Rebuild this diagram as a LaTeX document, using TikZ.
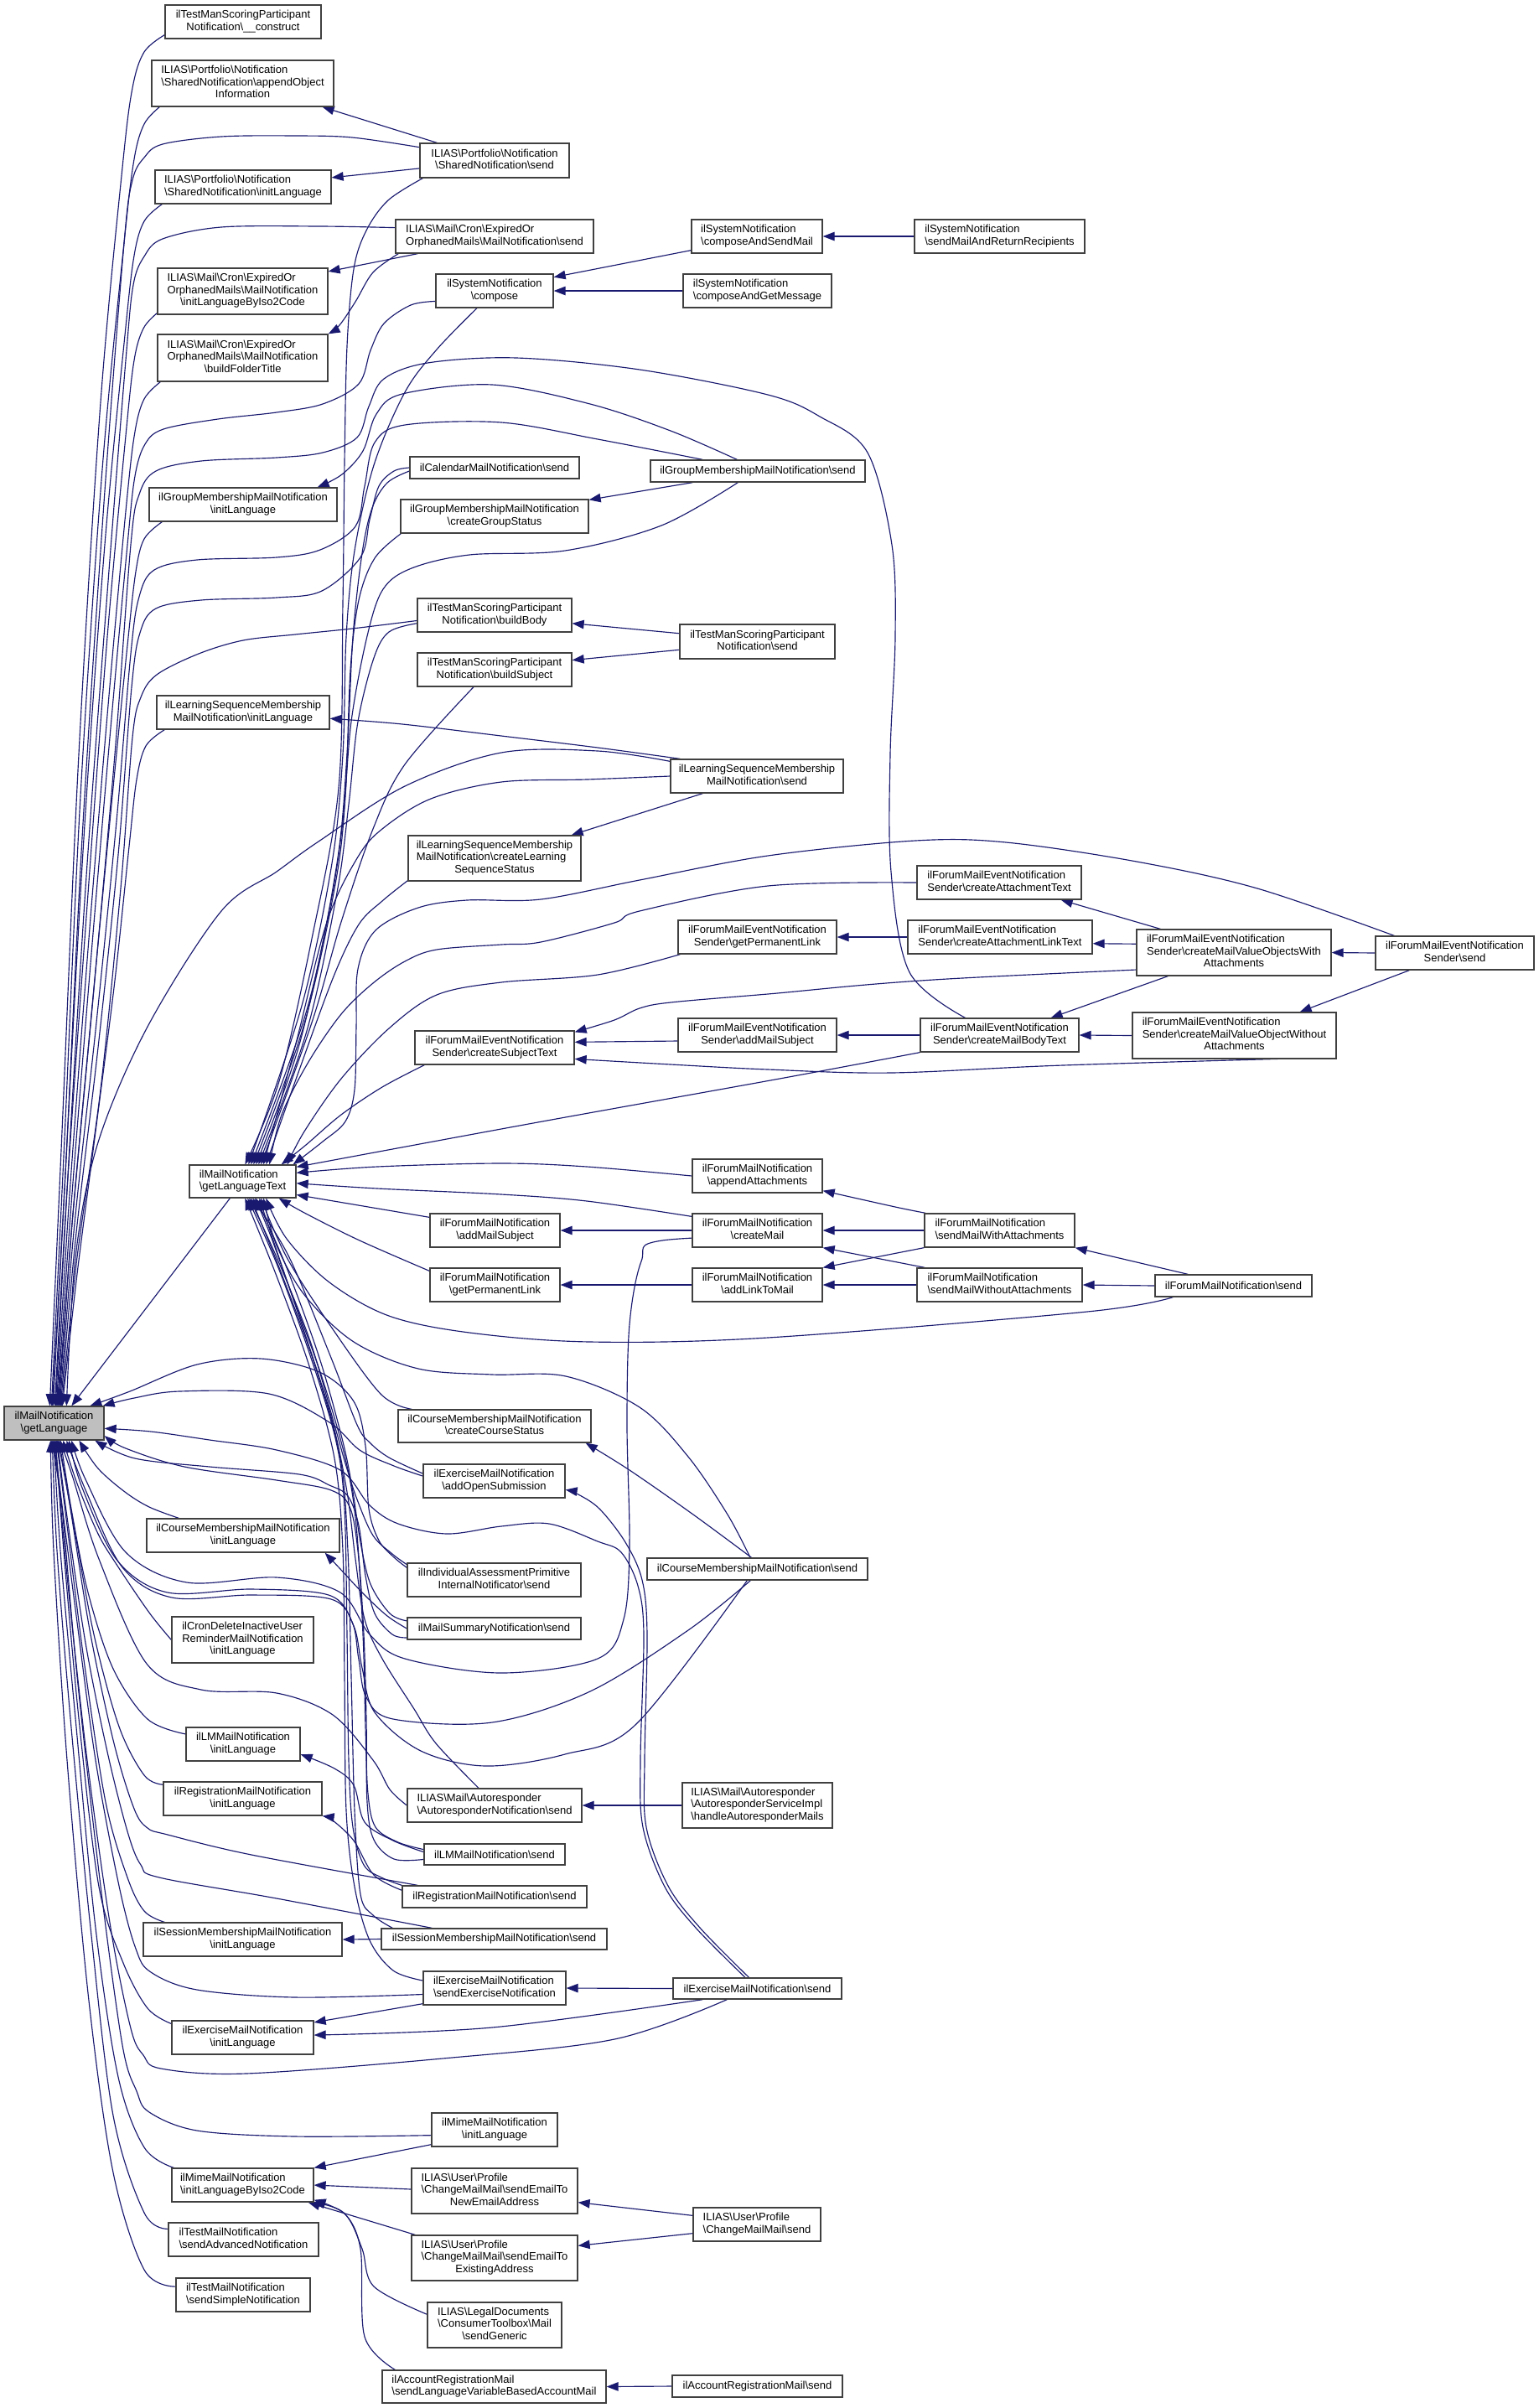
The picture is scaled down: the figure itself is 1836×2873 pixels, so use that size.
\documentclass[tikz,border=0pt]{standalone}
\usepackage{fontspec}
\setmainfont{Liberation Sans}
\usetikzlibrary{arrows.meta}
\definecolor{eb}{HTML}{191970}
\definecolor{bd}{HTML}{404040}
\definecolor{gf}{HTML}{BFBFBF}
\newcommand\bsl{\textbackslash}
\newcommand\twoL[2]{\begin{tabular}{@{}l@{}}#1\\\multicolumn{1}{@{}c@{}}{#2}\end{tabular}}
\newcommand\threeL[3]{\begin{tabular}{@{}l@{}}#1\\#2\\\multicolumn{1}{@{}c@{}}{#3}\end{tabular}}
\newcommand\nd[6]{\node[box,minimum width={(#4-#2)*1pt},minimum height={(#5-#3)*1pt}] (#1) at ({(#2+#4)/2},{(#3+#5)/2}) {#6};}
\newcommand\edgeP[1]{\draw[ar] plot[smooth,tension=0.55] coordinates {#1};}
\pgfdeclarelayer{edges}
\pgfsetlayers{edges,main}
\tikzset{
  box/.style={draw=bd,line width=1.3pt,fill=white,inner sep=0pt,font=\fontsize{13}{14.5}\selectfont},
  ar/.style={draw=eb,line width=1.15pt,-{Triangle[length=14pt,width=10.5pt]}}
}
\begin{document}
\begin{tikzpicture}[x=1pt,y=-1pt]
\useasboundingbox (0,0) rectangle (1836,2873);
% ---------------- nodes ----------------
\nd{construct}{197}{6}{383}{46}{\twoL{ilTestManScoringParticipant}{Notification\bsl\_\_construct}}
\nd{appendObj}{181}{72}{398}{127}{\threeL{ILIAS\bsl Portfolio\bsl Notification}{\bsl SharedNotification\bsl appendObject}{Information}}
\nd{sharedSend}{501}{171}{679}{212}{\twoL{ILIAS\bsl Portfolio\bsl Notification}{\bsl SharedNotification\bsl send}}
\nd{sharedInit}{185}{203}{395}{243}{\twoL{ILIAS\bsl Portfolio\bsl Notification}{\bsl SharedNotification\bsl initLanguage}}
\nd{cronSend}{472}{262}{708}{302}{\twoL{ILIAS\bsl Mail\bsl Cron\bsl ExpiredOr}{OrphanedMails\bsl MailNotification\bsl send}}
\nd{cronInit}{188}{320}{391}{375}{\threeL{ILIAS\bsl Mail\bsl Cron\bsl ExpiredOr}{OrphanedMails\bsl MailNotification}{\bsl initLanguageByIso2Code}}
\nd{cronFolder}{188}{399}{391}{455}{\threeL{ILIAS\bsl Mail\bsl Cron\bsl ExpiredOr}{OrphanedMails\bsl MailNotification}{\bsl buildFolderTitle}}
\nd{sysCompose}{520}{327}{660}{367}{\twoL{ilSystemNotification}{\bsl compose}}
\nd{sysComposeSend}{825}{262}{981}{302}{\twoL{ilSystemNotification}{\bsl composeAndSendMail}}
\nd{sysComposeMsg}{815}{327}{992}{367}{\twoL{ilSystemNotification}{\bsl composeAndGetMessage}}
\nd{sysSendMail}{1091}{262}{1294}{302}{\twoL{ilSystemNotification}{\bsl sendMailAndReturnRecipients}}
\nd{calSend}{489}{545}{691}{571}{ilCalendarMailNotification\bsl send}
\nd{grpSend}{776}{549}{1032}{575}{ilGroupMembershipMailNotification\bsl send}
\nd{grpInit}{178}{582}{402}{622}{\twoL{ilGroupMembershipMailNotification}{\bsl initLanguage}}
\nd{grpStatus}{478}{596}{702}{636}{\twoL{ilGroupMembershipMailNotification}{\bsl createGroupStatus}}
\nd{tmBody}{498}{714}{682}{754}{\twoL{ilTestManScoringParticipant}{Notification\bsl buildBody}}
\nd{tmSubject}{498}{779}{682}{819}{\twoL{ilTestManScoringParticipant}{Notification\bsl buildSubject}}
\nd{tmSend}{811}{745}{996}{786}{\twoL{ilTestManScoringParticipant}{Notification\bsl send}}
\nd{lsInit}{187}{830}{393}{870}{\twoL{ilLearningSequenceMembership}{MailNotification\bsl initLanguage}}
\nd{lsSend}{800}{906}{1006}{946}{\twoL{ilLearningSequenceMembership}{MailNotification\bsl send}}
\nd{lsStatus}{487}{997}{693}{1051}{\threeL{ilLearningSequenceMembership}{MailNotification\bsl createLearning}{SequenceStatus}}
\nd{fmeAttText}{1094}{1033}{1290}{1073}{\twoL{ilForumMailEventNotification}{Sender\bsl createAttachmentText}}
\nd{fmeGetPerm}{809}{1098}{998}{1138}{\twoL{ilForumMailEventNotification}{Sender\bsl getPermanentLink}}
\nd{fmeAttLink}{1083}{1098}{1303}{1138}{\twoL{ilForumMailEventNotification}{Sender\bsl createAttachmentLinkText}}
\nd{fmeWith}{1356}{1109}{1588}{1164}{\threeL{ilForumMailEventNotification}{Sender\bsl createMailValueObjectsWith}{Attachments}}
\nd{fmeSend}{1641}{1117}{1830}{1157}{\twoL{ilForumMailEventNotification}{Sender\bsl send}}
\nd{fmeSubjText}{495}{1230}{685}{1270}{\twoL{ilForumMailEventNotification}{Sender\bsl createSubjectText}}
\nd{fmeAddSubj}{809}{1215}{998}{1255}{\twoL{ilForumMailEventNotification}{Sender\bsl addMailSubject}}
\nd{fmeBody}{1098}{1215}{1287}{1255}{\twoL{ilForumMailEventNotification}{Sender\bsl createMailBodyText}}
\nd{fmeWithout}{1351}{1208}{1594}{1263}{\threeL{ilForumMailEventNotification}{Sender\bsl createMailValueObjectWithout}{Attachments}}
\nd{T}{226}{1390}{353}{1429}{\twoL{ilMailNotification}{\bsl getLanguageText}}
\nd{fmAppend}{826}{1383}{981}{1423}{\twoL{ilForumMailNotification}{\bsl appendAttachments}}
\nd{fmAddSubj}{513}{1448}{668}{1488}{\twoL{ilForumMailNotification}{\bsl addMailSubject}}
\nd{fmCreate}{826}{1448}{981}{1488}{\twoL{ilForumMailNotification}{\bsl createMail}}
\nd{fmWithAtt}{1103}{1448}{1282}{1488}{\twoL{ilForumMailNotification}{\bsl sendMailWithAttachments}}
\nd{fmGetPerm}{513}{1513}{668}{1553}{\twoL{ilForumMailNotification}{\bsl getPermanentLink}}
\nd{fmAddLink}{826}{1513}{981}{1553}{\twoL{ilForumMailNotification}{\bsl addLinkToMail}}
\nd{fmWithoutAtt}{1094}{1513}{1291}{1553}{\twoL{ilForumMailNotification}{\bsl sendMailWithoutAttachments}}
\nd{fmSend}{1378}{1521}{1565}{1547}{ilForumMailNotification\bsl send}
\node[box,fill=gf,minimum width=119pt,minimum height=40pt] (G) at (64.5,1698) {\twoL{ilMailNotification}{\bsl getLanguage}};
\nd{crsStatus}{475}{1682}{705}{1721}{\twoL{ilCourseMembershipMailNotification}{\bsl createCourseStatus}}
\nd{excAddOpen}{505}{1747}{674}{1787}{\twoL{ilExerciseMailNotification}{\bsl addOpenSubmission}}
\nd{crsInit}{175}{1812}{405}{1852}{\twoL{ilCourseMembershipMailNotification}{\bsl initLanguage}}
\nd{crsSend}{772}{1859}{1035}{1885}{ilCourseMembershipMailNotification\bsl send}
\nd{iass}{486}{1865}{693}{1905}{\twoL{ilIndividualAssessmentPrimitive}{InternalNotificator\bsl send}}
\nd{cronDel}{205}{1929}{374}{1984}{\threeL{ilCronDeleteInactiveUser}{ReminderMailNotification}{\bsl initLanguage}}
\nd{mailSummary}{486}{1930}{693}{1956}{ilMailSummaryNotification\bsl send}
\nd{lmInit}{222}{2061}{358}{2101}{\twoL{ilLMMailNotification}{\bsl initLanguage}}
\nd{regInit}{195}{2126}{384}{2166}{\twoL{ilRegistrationMailNotification}{\bsl initLanguage}}
\nd{autoSend}{486}{2134}{694}{2174}{\twoL{ILIAS\bsl Mail\bsl Autoresponder}{\bsl AutoresponderNotification\bsl send}}
\nd{autoHandle}{814}{2127}{993}{2181}{\threeL{ILIAS\bsl Mail\bsl Autoresponder}{\bsl AutoresponderServiceImpl}{\bsl handleAutoresponderMails}}
\nd{lmSend}{506}{2200}{674}{2225}{ilLMMailNotification\bsl send}
\nd{regSend}{480}{2250}{700}{2276}{ilRegistrationMailNotification\bsl send}
\nd{sessInit}{171}{2294}{408}{2334}{\twoL{ilSessionMembershipMailNotification}{\bsl initLanguage}}
\nd{sessSend}{455}{2301}{724}{2326}{ilSessionMembershipMailNotification\bsl send}
\nd{excSendNotif}{505}{2352}{675}{2392}{\twoL{ilExerciseMailNotification}{\bsl sendExerciseNotification}}
\nd{excSend}{803}{2360}{1004}{2385}{ilExerciseMailNotification\bsl send}
\nd{excInit}{205}{2411}{374}{2451}{\twoL{ilExerciseMailNotification}{\bsl initLanguage}}
\nd{mimeInit}{515}{2521}{665}{2561}{\twoL{ilMimeMailNotification}{\bsl initLanguage}}
\nd{mimeIso}{205}{2587}{374}{2627}{\twoL{ilMimeMailNotification}{\bsl initLanguageByIso2Code}}
\nd{newEmail}{491}{2587}{689}{2641}{\threeL{ILIAS\bsl User\bsl Profile}{\bsl ChangeMailMail\bsl sendEmailTo}{NewEmailAddress}}
\nd{changeSend}{827}{2634}{979}{2674}{\twoL{ILIAS\bsl User\bsl Profile}{\bsl ChangeMailMail\bsl send}}
\nd{testAdv}{201}{2652}{380}{2692}{\twoL{ilTestMailNotification}{\bsl sendAdvancedNotification}}
\nd{existEmail}{491}{2667}{689}{2721}{\threeL{ILIAS\bsl User\bsl Profile}{\bsl ChangeMailMail\bsl sendEmailTo}{ExistingAddress}}
\nd{testSimple}{210}{2718}{370}{2758}{\twoL{ilTestMailNotification}{\bsl sendSimpleNotification}}
\nd{legal}{510}{2747}{670}{2801}{\threeL{ILIAS\bsl LegalDocuments}{\bsl ConsumerToolbox\bsl Mail}{\bsl sendGeneric}}
\nd{accVar}{456}{2828}{723}{2867}{\twoL{ilAccountRegistrationMail}{\bsl sendLanguageVariableBasedAccountMail}}
\nd{accSend}{802}{2834}{1005}{2860}{ilAccountRegistrationMail\bsl send}
% ---------------- edges ----------------
\begin{pgfonlayer}{edges}
% upper rank-1 -> getLanguage
\edgeP{([yshift=5pt]construct.south west) (172,62) (158,105) (146,200) (120,480) (94,900) (74,1350) ([xshift=55pt]G.north west)}
\edgeP{([xshift=10pt]appendObj.south west) (172,148) (160,190) (148,290) (122,560) (96,950) (76,1380) ([xshift=57pt]G.north west)}
\edgeP{([xshift=9pt]sharedInit.south west) (172,264) (160,305) (149,400) (125,650) (100,1000) (78,1400) ([xshift=59pt]G.north west)}
\edgeP{([yshift=2pt]cronInit.south west) (171,392) (160,430) (150,520) (128,760) (104,1080) (80,1420) ([xshift=61pt]G.north west)}
\edgeP{([xshift=4pt]cronFolder.south west) (172,476) (161,515) (151,600) (130,830) (106,1120) (82,1440) ([xshift=63pt]G.north west)}
\edgeP{([xshift=16pt]grpInit.south west) (172,643) (162,682) (152,770) (133,960) (110,1200) (86,1460) ([xshift=66pt]G.north west)}
\edgeP{([xshift=10pt]lsInit.south west) (174,890) (163,930) (154,1010) (137,1170) (114,1350) (92,1520) ([xshift=70pt]G.north west)}
% long upper -> getLanguage
\edgeP{(sharedSend.170) (420,164) (352,162) (264,163) (194,172) (172,188) (158,215) (148,290) (124,600) (98,1000) (78,1400) ([xshift=58pt]G.north west)}
\edgeP{(cronSend.175) (381,270) (264,271) (194,285) (172,306) (159,340) (150,430) (127,720) (102,1060) (80,1420) ([xshift=62pt]G.north west)}
\edgeP{(sysCompose.190) (490,364) (458,386) (442,418) (428,458) (385,482) (330,492) (260,500) (195,512) (173,530) (161,568) (152,650) (131,880) (108,1150) (84,1450) ([xshift=64pt]G.north west)}
\edgeP{([xshift=-41pt]fmeBody.north) (1085,1160) (1063,1040) (1062,900) (1068,760) (1064,650) (1035,540) (978,497) (916,471) (763,441) (616,427) (510,433) (458,452) (440,485) (426,522) (385,540) (330,546) (240,550) (186,562) (166,590) (156,650) (137,900) (112,1180) (86,1460) ([xshift=65pt]G.north west)}
\edgeP{([xshift=63pt]grpSend.north west) (713,524) (598,504) (483,507) (447,528) (435,580) (424,628) (382,656) (330,665) (235,668) (184,680) (166,712) (156,780) (139,980) (115,1220) (88,1470) ([xshift=67pt]G.north west)}
\edgeP{(calSend.west) (470,562) (452,580) (441,620) (430,665) (384,705) (330,713) (240,716) (186,726) (167,755) (157,820) (141,1020) (117,1250) (90,1480) ([xshift=68pt]G.north west)}
\edgeP{(tmBody.184) (420,750) (352,757) (290,764) (237,780) (187,805) (168,832) (158,880) (144,1060) (120,1300) (92,1500) ([xshift=69pt]G.north west)}
\edgeP{([yshift=-3pt]lsSend.north west) (713,896) (598,898) (483,938) (380,1004) (330,1040) (264,1087) (176,1225) (117,1363) (90,1500) ([xshift=75pt]G.north west)}
\draw[ar] ([xshift=49pt]T.south west) -- ([xshift=81pt]G.north west);
% short upper edges
\draw[ar] ([xshift=21pt]sharedSend.north west) -- ([xshift=-14pt]appendObj.south east);
\draw[ar] (sharedSend.186) -- (sharedInit.6);
\draw[ar] ([xshift=27pt]cronSend.south west) -- (cronInit.13);
\edgeP{([xshift=4pt]cronSend.south west) (445,325) (424,360) (405,388) (cronFolder.north east)}
\draw[ar] ([yshift=4pt]sysComposeSend.south west) -- (sysCompose.13);
\draw[ar] (sysComposeMsg.west) -- (sysCompose.east);
\draw[ar] (sysSendMail.west) -- (sysComposeSend.east);
\draw[ar] ([xshift=51pt]grpSend.south west) -- ([yshift=-1pt]grpStatus.north east);
\edgeP{([xshift=104pt]grpSend.north west) (800,514) (704,482) (587,459) (480,470) (449,494) (433,538) (408,566) ([xshift=-24pt]grpInit.north east)}
\draw[ar] (tmSend.174) -- (tmBody.-6);
\draw[ar] (tmSend.186) -- (tmSubject.7);
\edgeP{([xshift=12pt]lsSend.north west) (713,892) (598,878) (480,864) (lsInit.-4)}
\draw[ar] ([xshift=39pt]lsSend.south west) -- ([xshift=-12pt]lsStatus.north east);
% -> getLanguageText top
\edgeP{([xshift=4pt]sharedSend.south west) (463,239) (437,275) (422,321) (414,413) (411,551) (409,720) (404,940) (372,1120) (333,1290) ([xshift=67pt]T.north west)}
\edgeP{([xshift=-21pt]sysCompose.south) (521,417) (483,468) (446,555) (423,657) (413,760) (409,900) (396,1030) (360,1200) ([xshift=71pt]T.north west)}
\edgeP{([yshift=-4pt]calSend.west) (462,576) (444,606) (432,660) (421,760) (414,900) (402,1030) (366,1205) ([xshift=74pt]T.north west)}
\edgeP{([xshift=1pt]grpStatus.south west) (447,666) (428,716) (418,800) (412,950) (400,1055) (362,1225) ([xshift=77pt]T.north west)}
\edgeP{([xshift=105pt]grpSend.south west) (789,627) (674,657) (560,662) (491,678) (457,703) (438,759) (419,861) (409,980) (393,1085) (356,1250) ([xshift=80pt]T.north west)}
\edgeP{(tmBody.186) (464,754) (446,785) (427,861) (416,960) (402,1065) (366,1230) ([xshift=83pt]T.north west)}
\edgeP{([xshift=-25pt]tmSubject.south) (483,912) (445,989) (407,1100) (372,1220) ([xshift=86pt]T.north west)}
\edgeP{(lsSend.west) (700,930) (598,933) (514,953) (456,989) (426,1024) (390,1100) (353,1245) ([xshift=89pt]T.north west)}
\edgeP{([yshift=1pt]lsStatus.south west) (456,1075) (428,1103) (398,1165) (354,1285) ([xshift=92pt]T.north west)}
\edgeP{(fmeAttText.west) (916,1057) (763,1087) (733,1101) (645,1124) (598,1127) (521,1133) (483,1147) (445,1173) (407,1210) (368,1267) (336,1330) ([xshift=96pt]T.north west)}
\edgeP{([xshift=12pt]fmeSubjText.south west) (456,1297) (407,1330) (365,1366) ([xshift=-18pt]T.north east)}
\edgeP{([xshift=3pt]fmeGetPerm.south west) (713,1163) (598,1172) (521,1187) (464,1227) (407,1287) (363,1350) ([xshift=-11pt]T.north east)}
\edgeP{([xshift=23pt]fmeSend.north west) (1500,1060) (1356,1028) (1200,1005) (1092,1003) (916,1021) (763,1050) (645,1073) (557,1074) (499,1083) (448,1110) (427,1156) (425,1225) (423,1300) (412,1338) (385,1362) ([xshift=-4pt]T.north east)}
% -> getLanguageText right side
\edgeP{(fmeBody.south west) (930,1287) (636,1340) (T.15)}
\edgeP{(fmAppend.west) (700,1392) (598,1388) (450,1392) (T.9)}
\edgeP{(fmCreate.168) (700,1433) (598,1425) (450,1418) (T.-2)}
\draw[ar] ([yshift=-5pt]fmAddSubj.north west) -- (T.-14);
\edgeP{(fmGetPerm.168) (429,1480) (365,1448) ([xshift=-21pt]T.south east)}
% -> getLanguageText bottom
\edgeP{([xshift=22pt]fmSend.south west) (1297,1565) (916,1596) (704,1601) (560,1590) (464,1570) (393,1530) (342,1478) ([xshift=92pt]T.south west)}
\edgeP{([xshift=17pt]crsStatus.north west) (454,1663) (393,1580) (342,1500) ([xshift=86pt]T.south west)}
\edgeP{([xshift=-8.5pt]crsSend.north) (868,1807) (821,1738) (763,1679) (675,1642) (587,1640) (499,1633) (422,1601) (364,1546) (330,1486) ([xshift=89pt]T.south west)}
\edgeP{(excAddOpen.174) (464,1739) (441,1721) (426,1700) (395,1620) (345,1500) ([xshift=76pt]T.south west)}
\edgeP{(iass.170) (468,1854) (445,1832) (426,1789) (412,1746) (399,1700) (370,1600) (330,1500) ([xshift=72pt]T.south west)}
\edgeP{(mailSummary.175) (465,1925) (442,1890) (430,1840) (421,1780) (409,1720) (381,1620) (341,1510) ([xshift=80pt]T.south west)}
\edgeP{(lmSend.176) (475,2198) (448,2180) (439,2140) (436,2060) (433,1950) (425,1820) (412,1740) (383,1640) (343,1530) ([xshift=84pt]T.south west)}
\edgeP{(regSend.north west) (455,2240) (434,2225) (421,2180) (416,2100) (414,1950) (411,1800) (401,1720) (371,1620) (331,1510) ([xshift=70pt]T.south west)}
\edgeP{([xshift=14pt]sessSend.north west) (445,2285) (430,2260) (423,2160) (419,2000) (415,1850) (406,1740) (376,1630) (336,1520) ([xshift=74pt]T.south west)}
\edgeP{(excSendNotif.174) (469,2351) (441,2315) (423,2251) (413,2160) (411,2000) (409,1850) (399,1740) (369,1630) (329,1520) ([xshift=67pt]T.south west)}
\edgeP{([xshift=-19pt]autoSend.north) (520,2080) (494,2039) (456,1979) (435,1932) (424,1860) (414,1780) (395,1690) (360,1580) (325,1480) ([xshift=79pt]T.south west)}
% getLanguage right side
\edgeP{(iass.172) (470,1858) (452,1838) (440,1800) (436,1725) (422,1672) (381,1637) (311,1621) (235,1628) (155,1660) ([xshift=103pt]G.north west)}
\edgeP{(excAddOpen.176) (470,1749) (429,1730) (393,1697) (321,1663) (214,1660) (160,1668) ([xshift=-2pt]G.north east)}
\edgeP{([xshift=-14.5pt]excSend.north) (830,2300) (793,2251) (767,2180) (764,2100) (768,1950) (761,1892) (741,1852) (713,1839) (655,1818) (598,1821) (533,1830) (475,1818) (441,1796) (406,1754) (330,1730) (250,1718) (180,1708) (G.-6)}
\edgeP{([xshift=-10pt]excSend.north) (835,2300) (797,2250) (771,2180) (769,2100) (772,1950) (766,1885) (746,1840) (715,1800) (688,1782) (excAddOpen.-7)}
\edgeP{(mailSummary.186) (468,1950) (447,1925) (436,1880) (428,1820) (415,1785) (393,1772) (357,1759) (250,1750) (161,1740) ([xshift=109pt]G.south west)}
\edgeP{(lmSend.184) (470,2218) (446,2195) (438,2150) (437,2050) (434,1950) (428,1860) (418,1800) (395,1778) (330,1766) (220,1750) (150,1728) (G.-14)}
\edgeP{(fmCreate.-3) (790,1480) (765,1505) (751,1580) (748,1700) (751,1843) (744,1932) (713,1979) (598,1996) (483,1979) (441,1950) (406,1900) (330,1882) (223,1888) (150,1852) (102,1765) ([xshift=81pt]G.south west)}
\edgeP{([xshift=124pt]crsSend.south west) (821,1945) (704,2018) (587,2055) (469,2051) (437,2025) (428,1980) (420,1935) (392,1903) (300,1896) (200,1900) (140,1862) (98,1775) ([xshift=78pt]G.south west)}
\edgeP{([xshift=120pt]crsSend.south west) (759,2057) (674,2093) (579,2107) (502,2089) (447,2043) (432,1990) (422,1940) (395,1908) (300,1903) (205,1906) (146,1870) (103,1780) ([xshift=75pt]G.south west)}
\edgeP{(autoSend.180) (465,2135) (445,2100) (397,2046) (330,2020) (240,2016) (175,1985) (118,1860) (86,1760) ([xshift=67pt]G.south west)}
% lower rank-1 -> getLanguage
\edgeP{([xshift=39pt]crsInit.north west) (178,1798) (149,1780) (117,1752) ([xshift=90pt]G.south west)}
\edgeP{(cronDel.west) (178,1924) (140,1868) (117,1830) (92,1770) ([xshift=71pt]G.south west)}
\edgeP{(lmInit.170) (176,2051) (135,1991) (105,1900) (85,1800) ([xshift=68pt]G.south west)}
\edgeP{(regInit.170) (172,2118) (142,2060) (112,1950) (88,1820) ([xshift=65pt]G.south west)}
\edgeP{([xshift=26pt]sessInit.north west) (172,2280) (152,2240) (126,2150) (100,1980) (80,1820) ([xshift=63pt]G.south west)}
\edgeP{(excInit.169) (176,2396) (147,2342) (118,2251) (94,2050) (76,1850) ([xshift=62pt]G.south west)}
\edgeP{([xshift=3pt]mimeIso.north west) (172,2562) (141,2478) (114,2300) (90,2050) (72,1850) ([xshift=60pt]G.south west)}
\edgeP{(testAdv.172) (172,2640) (135,2524) (108,2300) (84,2050) (68,1850) ([xshift=58pt]G.south west)}
\edgeP{(testSimple.173) (172,2708) (135,2592) (106,2387) (80,2100) (64,1850) ([xshift=56pt]G.south west)}
% long lower -> getLanguage via left column
\edgeP{([xshift=19pt]regSend.north west) (300,2213) (200,2189) (176,2181) (160,2158) (136,2080) (108,1950) (84,1800) ([xshift=66pt]G.south west)}
\edgeP{([xshift=61pt]sessSend.north west) (330,2265) (190,2240) (168,2225) (152,2185) (128,2090) (102,1960) (80,1810) ([xshift=64pt]G.south west)}
\edgeP{(excSendNotif.185) (352,2383) (235,2374) (180,2353) (162,2325) (142,2250) (114,2100) (90,1920) (72,1780) ([xshift=61pt]G.south west)}
\edgeP{([xshift=65pt]excSend.south west) (733,2433) (528,2456) (293,2474) (192,2468) (171,2452) (156,2420) (132,2300) (104,2100) (82,1900) (69,1760) ([xshift=59pt]G.south west)}
\edgeP{(mimeInit.185) (352,2549) (235,2542) (178,2520) (163,2495) (146,2440) (120,2250) (92,2000) (74,1800) ([xshift=57pt]G.south west)}
% short lower edges
\edgeP{(mailSummary.west) (462,1928) (434,1902) (406,1872) ([xshift=-18pt]crsInit.south east)}
\edgeP{([xshift=-7pt]crsSend.north) (827,1807) (751,1754) ([xshift=-7pt]crsStatus.south east)}
\draw[ar] (autoHandle.west) -- (autoSend.east);
\edgeP{(lmSend.178) (469,2196) (435,2174) (422,2130) (399,2110) (lmInit.-10)}
\edgeP{(regSend.176) (446,2237) (422,2196) (397,2172) (regInit.south east)}
\draw[ar] (sessSend.west) -- (sessInit.east);
\draw[ar] (excSend.west) -- (excSendNotif.east);
\edgeP{([xshift=36pt]excSend.south west) (587,2419) (excInit.2)}
\draw[ar] ([yshift=2pt]excSendNotif.south west) -- (excInit.12);
\draw[ar] ([yshift=3pt]mimeInit.south west) -- (mimeIso.north east);
\draw[ar] ([yshift=2pt]newEmail.west) -- (mimeIso.east);
\draw[ar] ([xshift=5pt]existEmail.north west) -- ([xshift=-7pt]mimeIso.south east);
\edgeP{(legal.171) (446,2728) (432,2683) (412,2642) ([yshift=3pt]mimeIso.south east)}
\edgeP{([xshift=16pt]accVar.north west) (435,2788) (430,2683) (410,2640) ([xshift=-2pt]mimeIso.south east)}
\draw[ar] ([yshift=-10pt]changeSend.north west) -- ([yshift=14pt]newEmail.south east);
\draw[ar] ([yshift=10pt]changeSend.south west) -- ([yshift=-13pt]existEmail.north east);
\draw[ar] (accSend.west) -- (accVar.east);
% forum event sender edges
\draw[ar] (fmeAddSubj.-3) -- (fmeSubjText.4);
\edgeP{(fmeWith.-5) (1130,1168) (916,1186) (800,1196) (763,1203) (733,1217) ([yshift=-2pt]fmeSubjText.north east)}
\edgeP{(fmeWithout.-12) (1268,1271) (1063,1280) (916,1276) (800,1270) (fmeSubjText.-8)}
\draw[ar] (fmeBody.west) -- (fmeAddSubj.east);
\draw[ar] (fmeAttLink.west) -- (fmeGetPerm.east);
\draw[ar] (fmeWith.4) -- (fmeAttLink.-4);
\draw[ar] ([xshift=29pt]fmeWith.north west) -- ([xshift=-25pt]fmeAttText.south east);
\draw[ar] ([xshift=38pt]fmeWith.south west) -- ([xshift=-34pt]fmeBody.north east);
\draw[ar] (fmeWithout.west) -- (fmeBody.east);
\draw[ar] (fmeSend.west) -- (fmeWith.east);
\draw[ar] ([xshift=41pt]fmeSend.south west) -- ([xshift=-44pt]fmeWithout.north east);
% forum mail notification edges
\draw[ar] (fmCreate.west) -- (fmAddSubj.east);
\draw[ar] (fmAddLink.west) -- (fmGetPerm.east);
\draw[ar] (fmWithAtt.west) -- (fmCreate.east);
\draw[ar] (fmWithAtt.south west) -- (fmAddLink.north east);
\draw[ar] ([xshift=10pt]fmWithoutAtt.north west) -- (fmCreate.south east);
\edgeP{([xshift=2pt]fmWithAtt.north west) (1068,1440) ([yshift=3pt]fmAppend.south east)}
\draw[ar] (fmWithoutAtt.west) -- (fmAddLink.east);
\draw[ar] ([xshift=40pt]fmSend.north west) -- (fmWithAtt.south east);
\draw[ar] (fmSend.west) -- (fmWithoutAtt.east);
\end{pgfonlayer}
\end{tikzpicture}
\end{document}
